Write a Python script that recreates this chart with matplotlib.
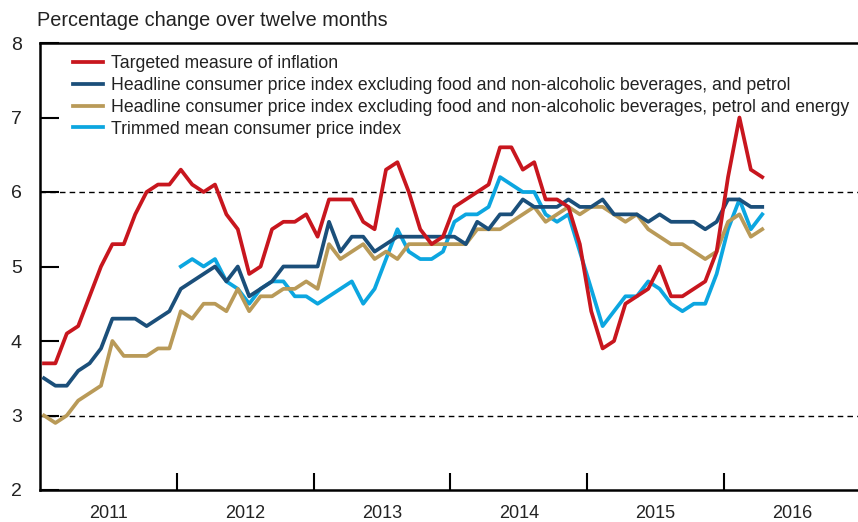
import matplotlib.pyplot as plt

plt.rcParams['font.family'] = ['Liberation Sans', 'DejaVu Sans']

# monthly data, Jan 2011 - Apr 2016
targeted = [3.7, 3.7, 4.1, 4.2, 4.6, 5.0, 5.3, 5.3, 5.7, 6.0, 6.1, 6.1,
            6.3, 6.1, 6.0, 6.1, 5.7, 5.5, 4.9, 5.0, 5.5, 5.6, 5.6, 5.7,
            5.4, 5.9, 5.9, 5.9, 5.6, 5.5, 6.3, 6.4, 6.0, 5.5, 5.3, 5.4,
            5.8, 5.9, 6.0, 6.1, 6.6, 6.6, 6.3, 6.4, 5.9, 5.9, 5.8, 5.3,
            4.4, 3.9, 4.0, 4.5, 4.6, 4.7, 5.0, 4.6, 4.6, 4.7, 4.8, 5.2,
            6.2, 7.0, 6.3, 6.2]
excl_petrol = [3.5, 3.4, 3.4, 3.6, 3.7, 3.9, 4.3, 4.3, 4.3, 4.2, 4.3, 4.4,
               4.7, 4.8, 4.9, 5.0, 4.8, 5.0, 4.6, 4.7, 4.8, 5.0, 5.0, 5.0,
               5.0, 5.6, 5.2, 5.4, 5.4, 5.2, 5.3, 5.4, 5.4, 5.4, 5.4, 5.4,
               5.4, 5.3, 5.6, 5.5, 5.7, 5.7, 5.9, 5.8, 5.8, 5.8, 5.9, 5.8,
               5.8, 5.9, 5.7, 5.7, 5.7, 5.6, 5.7, 5.6, 5.6, 5.6, 5.5, 5.6,
               5.9, 5.9, 5.8, 5.8]
excl_energy = [3.0, 2.9, 3.0, 3.2, 3.3, 3.4, 4.0, 3.8, 3.8, 3.8, 3.9, 3.9,
               4.4, 4.3, 4.5, 4.5, 4.4, 4.7, 4.4, 4.6, 4.6, 4.7, 4.7, 4.8,
               4.7, 5.3, 5.1, 5.2, 5.3, 5.1, 5.2, 5.1, 5.3, 5.3, 5.3, 5.3,
               5.3, 5.3, 5.5, 5.5, 5.5, 5.6, 5.7, 5.8, 5.6, 5.7, 5.8, 5.7,
               5.8, 5.8, 5.7, 5.6, 5.7, 5.5, 5.4, 5.3, 5.3, 5.2, 5.1, 5.2,
               5.6, 5.7, 5.4, 5.5]
trimmed = [None] * 12 + [
               5.0, 5.1, 5.0, 5.1, 4.8, 4.7, 4.5, 4.7, 4.8, 4.8, 4.6, 4.6,
               4.5, 4.6, 4.7, 4.8, 4.5, 4.7, 5.1, 5.5, 5.2, 5.1, 5.1, 5.2,
               5.6, 5.7, 5.7, 5.8, 6.2, 6.1, 6.0, 6.0, 5.7, 5.6, 5.7, 5.2,
               4.7, 4.2, 4.4, 4.6, 4.6, 4.8, 4.7, 4.5, 4.4, 4.5, 4.5, 4.9,
               5.5, 5.9, 5.5, 5.7]
years = ['2011', '2012', '2013', '2014', '2015', '2016']

labels = ['Targeted measure of inflation',
          'Headline consumer price index excluding food and non-alcoholic beverages, and petrol',
          'Headline consumer price index excluding food and non-alcoholic beverages, petrol and energy',
          'Trimmed mean consumer price index']
colors = ['#C8161E', '#1B4F7A', '#B99A58', '#0CA6E0']

x = [i + 0.35 for i in range(len(targeted))]
trimmed = [float('nan') if v is None else v for v in trimmed]

fig = plt.figure(figsize=(8.58, 5.22), dpi=100)
ax = fig.add_axes([40 / 858, 1 - 490 / 522, 1 - 40 / 858, (490 - 43) / 522])

lw = 2.7
ax.plot(x, trimmed, color=colors[3], lw=lw, label=labels[3], zorder=3)
ax.plot(x, excl_energy, color=colors[2], lw=lw, label=labels[2], zorder=3)
ax.plot(x, excl_petrol, color=colors[1], lw=lw, label=labels[1], zorder=4)
ax.plot(x, targeted, color=colors[0], lw=lw, label=labels[0], zorder=5)

# dashed reference lines
for yv in (3, 6):
    ax.axhline(yv, color='black', lw=1.0, ls=(0, (4, 3)), zorder=1)

ax.set_xlim(0, 71.75)
ax.set_ylim(2, 8)

ax.set_yticks(range(2, 9))
ax.tick_params(axis='y', direction='in', length=14, width=1.5, labelsize=14,
               pad=13, labelcolor='#222222')
ax.set_xticks([12, 24, 36, 48, 60])
ax.set_xticklabels([])
ax.tick_params(axis='x', which='major', direction='in', length=12, width=1.5)
ax.set_xticks([6 + 12 * k for k in range(len(years))], minor=True)
ax.set_xticklabels(years, minor=True)
ax.tick_params(axis='x', which='minor', length=0, labelsize=13, pad=11,
               labelcolor='#222222')

for s in ('left', 'bottom', 'top'):
    ax.spines[s].set_linewidth(1.8)
ax.spines['right'].set_visible(False)

handles, labs = ax.get_legend_handles_labels()
order = [3, 2, 1, 0]
leg = ax.legend([handles[i] for i in order], [labs[i] for i in order],
                loc='upper left', bbox_to_anchor=(0.025, 1.0), frameon=False,
                fontsize=12.7, handlelength=1.7, handletextpad=0.45,
                labelspacing=0.27, borderaxespad=0.3)
for t in leg.get_texts():
    t.set_color('#222222')

fig.text(37 / 858, 1 - 20 / 522, 'Percentage change over twelve months',
         fontsize=14.3, va='center', ha='left', color='#222222')

fig.savefig('out.png', dpi=100)
